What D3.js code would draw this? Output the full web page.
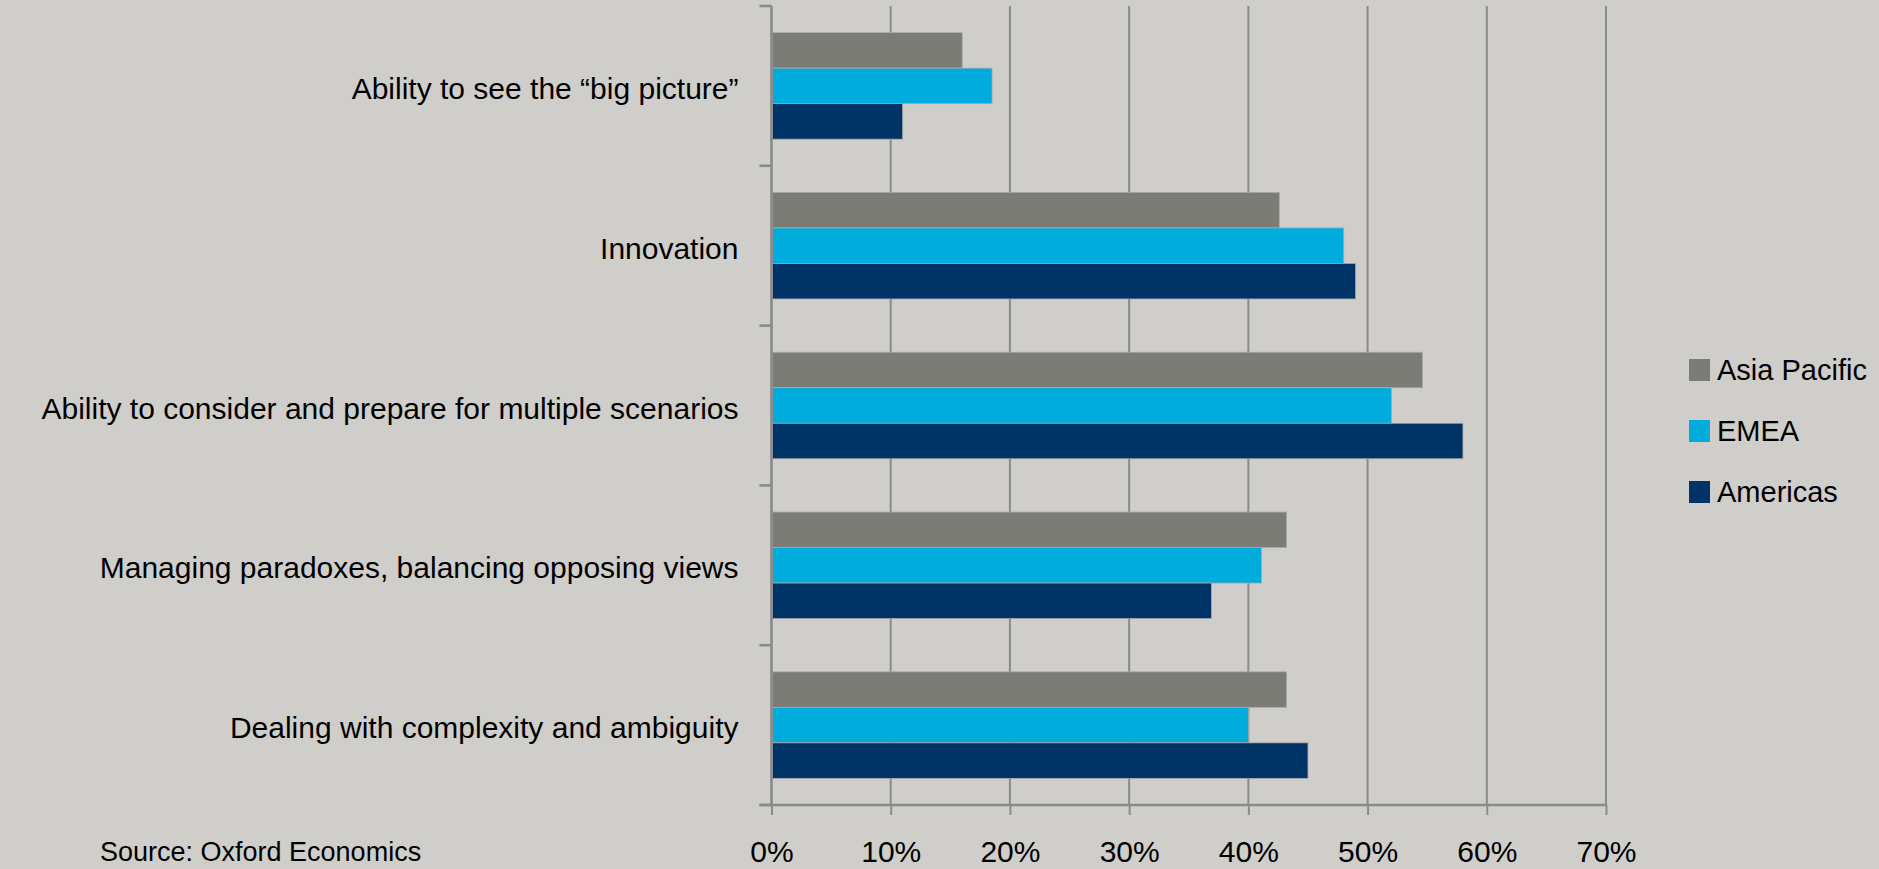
<!DOCTYPE html>
<html>
<head>
<meta charset="utf-8">
<script src="https://cdn.jsdelivr.net/npm/d3@7"></script>
<style>
  body { margin: 0; background: #d0cecb; }
  svg { display: block; }
  text { font-family: "Liberation Sans", Arial, sans-serif; fill: #000; }
</style>
</head>
<body>
<svg id="chart" width="1879" height="869"></svg>
<script>
// categories top to bottom
var categories = [
    "Ability to see the \u201cbig picture\u201d",
    "Innovation",
    "Ability to consider and prepare for multiple scenarios",
    "Managing paradoxes, balancing opposing views",
    "Dealing with complexity and ambiguity"
];
var seriesNames = ["Asia Pacific", "EMEA", "Americas"];
var asiaPacific = [0.16, 0.426, 0.546, 0.432, 0.432];
var emea        = [0.185, 0.48, 0.52, 0.411, 0.40];
var americas    = [0.11, 0.49, 0.58, 0.369, 0.45];
var xTicks = [0, 0.1, 0.2, 0.3, 0.4, 0.5, 0.6, 0.7];
var colors = ["#7c7c77", "#00acdc", "#003366"];

var seriesValues = [asiaPacific, emea, americas];

var svg = d3.select("#chart");

var margins = { top: 6, bottom: 64, left: 771.5, right: 273 };
var W = +svg.attr("width"), H = +svg.attr("height");

var x = d3.scaleLinear().domain([0, 0.7]).range([margins.left, W - margins.right]);
var y = d3.scaleBand().domain(categories).range([margins.top, H - margins.bottom]);
// bars take the middle two thirds of each band (gap width 50%)
var inner = d3.scaleBand().domain(seriesNames)
    .range([y.bandwidth() / 6, y.bandwidth() * 5 / 6]);

var axisColor = "#8a8a8a";

// gridlines
svg.append("g")
    .selectAll("line")
    .data(xTicks.slice(1))
    .enter().append("line")
    .attr("x1", d => x(d)).attr("x2", d => x(d))
    .attr("y1", margins.top).attr("y2", H - margins.bottom)
    .attr("stroke", axisColor)
    .attr("stroke-width", 2);

// bars
var rows = [];
categories.forEach(function (c, i) {
    seriesNames.forEach(function (s, j) {
        rows.push({ cat: c, series: s, value: seriesValues[j][i], color: colors[j] });
    });
});

svg.append("g")
    .selectAll("rect")
    .data(rows)
    .enter().append("rect")
    .attr("x", x(0) + 1)
    .attr("y", d => y(d.cat) + inner(d.series))
    .attr("width", d => x(d.value) - x(0) - 1)
    .attr("height", inner.bandwidth())
    .attr("fill", d => d.color)
    .attr("stroke", "#a9a9a9")
    .attr("stroke-width", 0.8);

// y axis
var yAxis = svg.append("g");
yAxis.append("line")
    .attr("x1", x(0)).attr("x2", x(0))
    .attr("y1", margins.top).attr("y2", H - margins.bottom)
    .attr("stroke", axisColor).attr("stroke-width", 2.6);
yAxis.selectAll(".tk")
    .data(categories.map(c => y(c)).concat([y.range()[1]]))
    .enter().append("line")
    .attr("x1", x(0) - 12).attr("x2", x(0))
    .attr("y1", d => d).attr("y2", d => d)
    .attr("stroke", axisColor).attr("stroke-width", 2.6);

yAxis.selectAll("text")
    .data(categories)
    .enter().append("text")
    .attr("x", x(0) - 33)
    .attr("y", d => y(d) + y.bandwidth() / 2 + 13)
    .attr("text-anchor", "end")
    .style("font-size", "30px")
    .text(d => d);

// x axis
var xAxis = svg.append("g")
    .attr("transform", "translate(0," + (H - margins.bottom) + ")")
    .call(d3.axisBottom(x).tickValues(xTicks).tickFormat(d3.format(".0%")).tickSize(10).tickPadding(26));
xAxis.select(".domain").remove();
xAxis.append("line")
    .attr("x1", x(0) - 12).attr("x2", x(0.7))
    .attr("stroke", axisColor).attr("stroke-width", 2.6);
xAxis.selectAll(".tick line").attr("stroke", axisColor).attr("stroke-width", 2);
xAxis.selectAll(".tick text")
    .style("font-size", "30px")
    .style("font-family", "'Liberation Sans', Arial, sans-serif")
    .attr("fill", "#000");

// legend
var legend = svg.append("g").attr("transform", "translate(1689,359)");
var lg = legend.selectAll("g")
    .data(seriesNames)
    .enter().append("g")
    .attr("transform", (d, i) => "translate(0," + i * 61 + ")");
lg.append("rect")
    .attr("width", 21).attr("height", 22)
    .attr("fill", (d, i) => colors[i]);
lg.append("text")
    .attr("x", 28).attr("y", 20.5)
    .style("font-size", "29px")
    .text(d => d);

// source note (kept just inside the bottom edge)
svg.append("text")
    .attr("x", 100)
    .attr("y", 861)
    .style("font-size", "27px")
    .text("Source: Oxford Economics");
</script>
</body>
</html>
